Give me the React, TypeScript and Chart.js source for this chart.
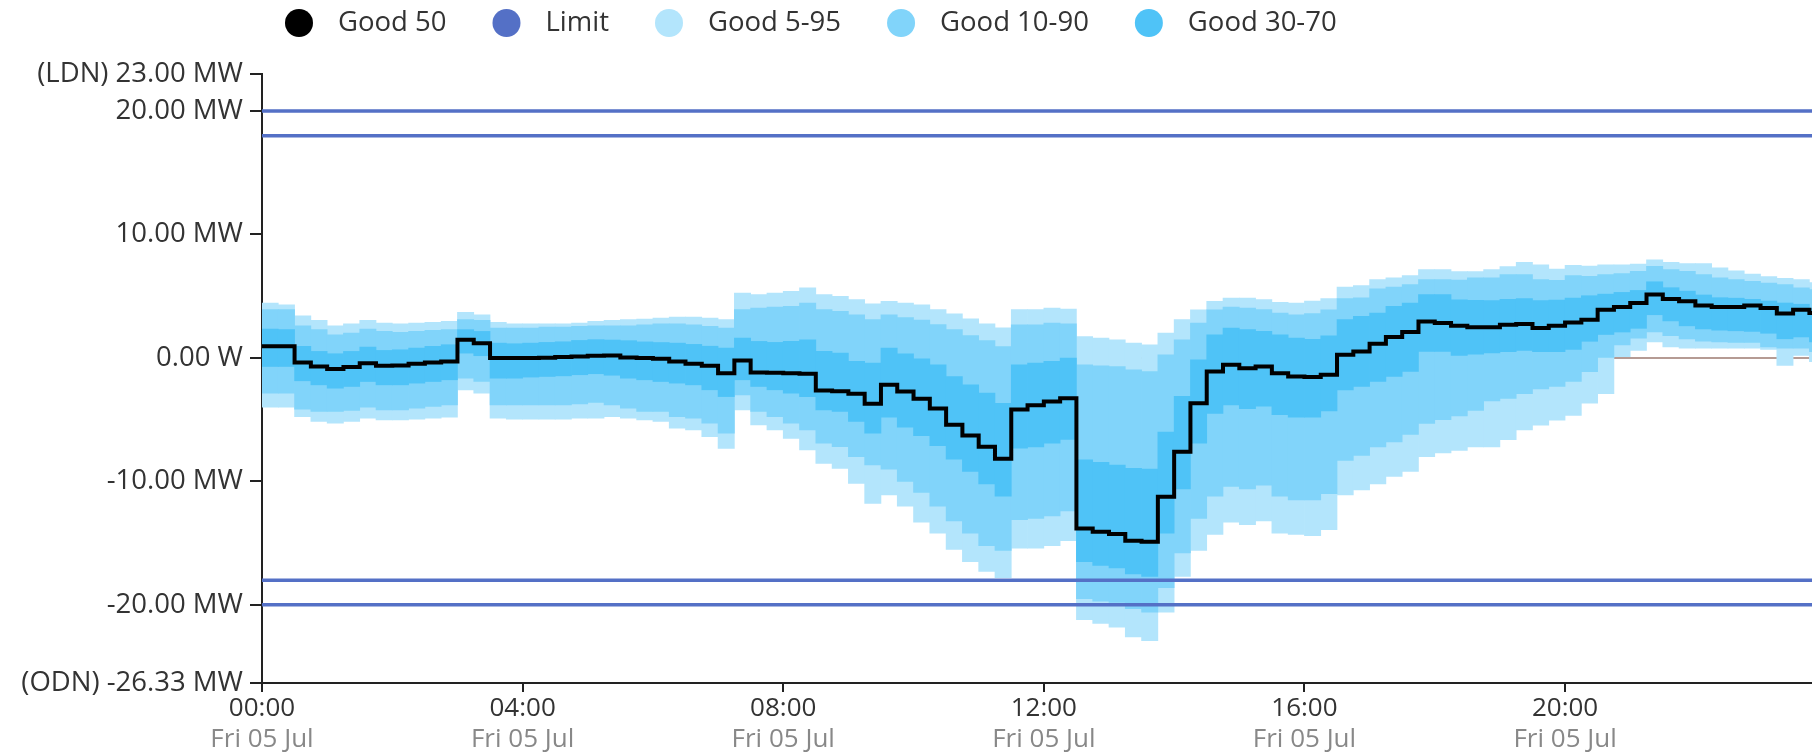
import React, { useEffect, useRef } from 'react';
import { Chart, registerables } from 'chart.js';

Chart.register(...registerables);

// ---------------- data ----------------
// 15-minute slots, hours on the x axis
const SLOT_HOURS = 0.25;
const X_MAX = 23.79;
const X_TICKS = [0, 4, 8, 12, 16, 20];
const DATE_LABEL = 'Fri 05 Jul';
const Y_MIN = -26.33;
const Y_MAX = 23;
const Y_TICKS = [-26.33, -20, -10, 0, 10, 20, 23];
const LIMITS = [20, 18, -18, -20];

const LABEL_GOOD50 = 'Good 50';
const LABEL_LIMIT = 'Limit';
const LABEL_B95 = 'Good 5-95';
const LABEL_B90 = 'Good 10-90';
const LABEL_B70 = 'Good 30-70';

// median (step line)
const good50 = [
  0.94, 0.94, -0.36, -0.69, -0.9, -0.74, -0.42, -0.63,
  -0.61, -0.47, -0.36, -0.28, 1.48, 1.2, -0.01, -0.01,
  0, 0.02, 0.07, 0.12, 0.18, 0.2, 0.04, -0.01,
  -0.07, -0.28, -0.47, -0.64, -1.23, -0.2, -1.18, -1.2,
  -1.23, -1.29, -2.64, -2.69, -2.91, -3.72, -2.18, -2.72,
  -3.3, -4.1, -5.42, -6.28, -7.2, -8.17, -4.18, -3.84,
  -3.53, -3.26, -13.81, -14.08, -14.27, -14.81, -14.89, -11.24,
  -7.59, -3.67, -1.1, -0.56, -0.83, -0.69, -1.23, -1.5,
  -1.55, -1.37, 0.26, 0.53, 1.15, 1.69, 2.1, 2.96,
  2.83, 2.61, 2.48, 2.48, 2.69, 2.75, 2.42, 2.61,
  2.88, 3.1, 3.91, 4.13, 4.45, 5.13, 4.78, 4.59,
  4.24, 4.13, 4.13, 4.24, 4.05, 3.59, 3.91, 3.64,
];

// 95th percentile (top of Good 5-95)
const good95 = [
  4.45, 4.3, 3.42, 3.04, 2.61, 2.77, 3.04, 2.83,
  2.77, 2.83, 2.88, 2.96, 3.69, 3.5, 2.88, 2.77,
  2.77, 2.77, 2.77, 2.83, 2.96, 3.04, 3.1, 3.15,
  3.23, 3.31, 3.31, 3.23, 3.1, 5.26, 5.13, 5.26,
  5.4, 5.67, 5.13, 4.99, 4.72, 4.39, 4.58, 4.45,
  4.31, 3.91, 3.57, 3.17, 2.76, 2.43, 3.91, 3.91,
  4.04, 3.96, 1.74, 1.61, 1.47, 1.2, 1.07, 2.01,
  3.1, 3.9, 4.58, 4.85, 4.85, 4.72, 4.5, 4.45,
  4.6, 4.8, 5.75, 5.86, 6.35, 6.48, 6.67, 7.16,
  7.16, 7.0, 7.0, 7.15, 7.4, 7.75, 7.55, 7.2,
  7.5, 7.45, 7.55, 7.55, 7.6, 7.95, 7.75, 7.65,
  7.65, 7.3, 7.05, 6.8, 6.6, 6.45, 6.35, 6.1,
];

// 90th percentile (top of Good 10-90)
const good90 = [
  3.91, 3.91, 2.61, 2.29, 1.88, 2.02, 2.34, 2.15,
  2.07, 2.15, 2.23, 2.29, 3.1, 3.04, 2.42, 2.42,
  2.42, 2.5, 2.5, 2.56, 2.61, 2.6, 2.61, 2.69,
  2.77, 2.77, 2.69, 2.56, 2.42, 3.91, 4.04, 4.12,
  4.18, 4.45, 3.91, 3.77, 3.5, 3.1, 3.5, 3.27,
  3.07, 2.7, 2.3, 1.81, 1.4, 0.93, 2.69, 2.69,
  2.83, 2.77, -0.56, -0.64, -0.69, -0.96, -1.1, 0.26,
  1.47, 2.83, 3.9, 4.12, 4.04, 3.91, 3.64, 3.5,
  3.6, 3.9, 4.8, 4.86, 5.59, 5.75, 5.94, 6.35,
  6.35, 6.3, 6.48, 6.48, 6.75, 6.75, 6.35, 6.29,
  6.67, 6.62, 6.75, 6.83, 7.02, 7.43, 7.16, 7.02,
  6.75, 6.48, 6.35, 6.21, 6.07, 5.94, 5.67, 5.53,
];

// 70th percentile (top of Good 30-70)
const good70 = [
  2.34, 2.3, 0.94, 0.53, 0.34, 0.53, 0.88, 0.61,
  0.66, 0.8, 0.94, 1.07, 2.29, 2.15, 1.2, 1.15,
  1.2, 1.26, 1.31, 1.42, 1.48, 1.45, 1.4, 1.3,
  1.25, 1.2, 1.1, 0.95, 0.8, 1.61, 1.34, 1.26,
  1.34, 1.47, 0.53, 0.39, -0.28, -0.42, 0.8, 0.33,
  -0.08, -0.55, -1.5, -2.18, -2.85, -3.67, -0.56, -0.42,
  -0.28, -0.01, -8.26, -8.45, -8.67, -8.94, -9.0, -6.0,
  -3.1, -0.15, 1.88, 2.42, 2.29, 2.15, 1.88, 1.61,
  1.5, 1.8, 3.1, 3.37, 3.64, 4.18, 4.45, 5.13,
  5.13, 4.7, 4.67, 4.65, 4.74, 4.81, 4.64, 4.68,
  4.84, 5.04, 5.17, 5.31, 5.47, 6.17, 5.69, 5.41,
  5.1, 4.88, 4.84, 4.75, 4.61, 4.45, 4.35, 4.0,
];

// 30th percentile (bottom of Good 30-70)
const good30 = [
  -0.69, -0.69, -1.85, -2.18, -2.45, -2.31, -1.91, -2.18,
  -2.18, -2.04, -1.91, -1.77, 0.39, 0.18, -1.64, -1.64,
  -1.55, -1.5, -1.45, -1.36, -1.28, -1.4, -1.64, -1.77,
  -1.91, -2.04, -2.18, -2.58, -3.13, -1.77, -2.31, -2.58,
  -2.85, -3.13, -4.21, -4.34, -5.15, -6.1, -4.8, -5.6,
  -6.3, -7.1, -8.2, -9.2, -10.2, -11.2, -7.3, -7.2,
  -6.9, -6.6, -16.5, -16.8, -17.0, -17.5, -17.7, -14.2,
  -10.6, -6.9, -4.5, -3.8, -4.1, -3.9, -4.6, -4.8,
  -4.8, -4.3, -2.6, -2.3, -1.9, -1.5, -1.1, 0.53,
  0.53, 0.2, 0.3, 0.4, 0.5, 0.6, 0.5, 0.5,
  0.7, 1.35, 1.9, 2.1, 2.4, 3.5, 3.0, 2.6,
  2.35, 2.25, 2.2, 2.15, 2.0, 1.55, 1.7, 1.3,
];

// 10th percentile (bottom of Good 10-90)
const good10 = [
  -2.85, -2.85, -4.15, -4.34, -4.34, -4.26, -3.99, -4.21,
  -4.21, -4.07, -3.93, -3.8, -1.64, -1.91, -3.8, -3.8,
  -3.8, -3.8, -3.8, -3.72, -3.61, -3.8, -4.07, -4.34,
  -4.34, -4.75, -4.88, -5.29, -6.1, -2.99, -4.34, -4.75,
  -5.29, -5.83, -6.91, -7.18, -7.99, -8.67, -9.0, -10.0,
  -10.9, -12.0, -13.2, -14.2, -15.2, -15.6, -13.1, -13.0,
  -12.8, -12.4, -19.5, -19.7, -19.8, -20.3, -20.6, -18.6,
  -15.8, -13.0, -11.2, -10.4, -10.6, -10.3, -11.2, -11.5,
  -11.5, -11.0, -8.3, -7.9, -7.2, -6.8, -6.2, -5.3,
  -5.0, -4.7, -4.26, -3.48, -3.28, -2.89, -2.5, -2.3,
  -1.91, -1.12, 0.05, 1.05, 1.6, 2.1, 1.8, 1.55,
  1.35, 1.3, 1.25, 1.25, 0.9, 0.8, 0.8, 0.5,
];

// 5th percentile (bottom of Good 5-95)
const good5 = [
  -3.99, -3.99, -4.75, -5.15, -5.29, -5.15, -4.88, -5.02,
  -5.02, -4.96, -4.88, -4.8, -2.58, -2.85, -4.88, -4.96,
  -4.96, -4.96, -4.96, -4.88, -4.88, -4.75, -4.88, -5.02,
  -5.15, -5.69, -5.83, -6.37, -7.32, -4.21, -5.42, -5.83,
  -6.51, -7.45, -8.54, -8.94, -10.16, -11.78, -11.1, -12.0,
  -13.3, -14.2, -15.5, -16.5, -17.3, -17.8, -15.4, -15.4,
  -15.2, -14.8, -21.2, -21.5, -21.8, -22.6, -22.9, -20.6,
  -17.7, -15.6, -14.3, -13.3, -13.5, -13.2, -14.2, -14.3,
  -14.4, -13.9, -11.1, -10.7, -10.2, -9.6, -9.2, -8.0,
  -7.7, -7.5, -7.2, -7.2, -6.61, -5.83, -5.44, -5.04,
  -4.65, -3.67, -2.89, 0.1, 0.6, 1.3, 0.9, 0.8,
  0.8, 0.8, 0.8, 0.8, 0.7, -0.6, 0.2, -0.3,
];

// ---------------- styling ----------------
const FONT = '"Open Sans", "Noto Sans", sans-serif';
const AXIS_COLOR = '#222222';
const TEXT_COLOR = '#333333';
const SUB_TEXT_COLOR = '#888888';
const COLOR_GOOD50 = '#000000';
const COLOR_LIMIT = '#5470C6';
const COLOR_B95 = '#B3E5FC';
const COLOR_B90 = '#81D4FA';
const COLOR_B70 = '#4FC3F7';
const COLOR_ZERO = '#9C7A70';

const LEGEND_COLORS: Record<string, string> = {
  [LABEL_GOOD50]: COLOR_GOOD50,
  [LABEL_LIMIT]: COLOR_LIMIT,
  [LABEL_B95]: COLOR_B95,
  [LABEL_B90]: COLOR_B90,
  [LABEL_B70]: COLOR_B70,
};

function bandData(lo: number[], hi: number[]) {
  return lo.map((v, k) => ({ x: k * SLOT_HOURS + SLOT_HOURS / 2, y: [v, hi[k]] }));
}

function stepData(vals: number[]) {
  const pts = vals.map((v, k) => ({ x: k * SLOT_HOURS, y: v }));
  pts.push({ x: vals.length * SLOT_HOURS, y: vals[vals.length - 1] });
  return pts;
}

function limitData() {
  const pts: { x: number; y: number | null }[] = [];
  LIMITS.forEach((v) => {
    pts.push({ x: 0, y: v }, { x: 24, y: v }, { x: 24, y: null });
  });
  return pts;
}

function yLabel(v: number) {
  if (v === Y_MAX) return `(LDN) ${v.toFixed(2)} MW`;
  if (v === Y_MIN) return `(ODN) ${v.toFixed(2)} MW`;
  if (v === 0) return '0.00 W';
  return `${v.toFixed(2)} MW`;
}

function hourLabel(v: number) {
  return `${String(Math.round(v)).padStart(2, '0')}:00`;
}

const legendPlugin = {
  id: 'customLegend',
  afterDraw(chart: any) {
    const ctx = chart.ctx as CanvasRenderingContext2D;
    ctx.save();
    ctx.font = `27.5px ${FONT}`;
    ctx.textBaseline = 'middle';
    ctx.textAlign = 'left';
    let cx = 299;
    const cy = 23;
    chart.data.datasets.forEach((ds: any) => {
      const color = LEGEND_COLORS[ds.label];
      if (!color) return;
      ctx.fillStyle = color;
      ctx.beginPath();
      ctx.arc(cx, cy, 14, 0, Math.PI * 2);
      ctx.fill();
      ctx.fillStyle = TEXT_COLOR;
      ctx.fillText(ds.label, cx + 39, cy);
      const w = ctx.measureText(ds.label).width;
      cx = cx + 39 + w + 60;
    });
    ctx.restore();
  },
};

export default function App() {
  const ref = useRef<HTMLCanvasElement | null>(null);

  useEffect(() => {
    document.body.style.margin = '0';
    if (!ref.current) return;
    Chart.defaults.font.family = FONT;

    const chart = new Chart(ref.current, {
      type: 'bar',
      data: {
        datasets: [
          {
            type: 'line',
            label: LABEL_GOOD50,
            data: stepData(good50),
            borderColor: COLOR_GOOD50,
            backgroundColor: COLOR_GOOD50,
            borderWidth: 4,
            pointRadius: 0,
            stepped: 'before',
            fill: false,
            order: 0,
          },
          {
            type: 'line',
            label: LABEL_LIMIT,
            data: limitData(),
            borderColor: COLOR_LIMIT,
            backgroundColor: COLOR_LIMIT,
            borderWidth: 3.5,
            pointRadius: 0,
            fill: false,
            spanGaps: false,
            order: 1,
          },
          {
            type: 'bar',
            label: LABEL_B95,
            data: bandData(good5, good95),
            backgroundColor: COLOR_B95,
            order: 4,
          },
          {
            type: 'bar',
            label: LABEL_B90,
            data: bandData(good10, good90),
            backgroundColor: COLOR_B90,
            order: 3,
          },
          {
            type: 'bar',
            label: LABEL_B70,
            data: bandData(good30, good70),
            backgroundColor: COLOR_B70,
            order: 2,
          },
          {
            type: 'line',
            label: 'zero',
            data: [
              { x: 0, y: 0 },
              { x: 24, y: 0 },
            ],
            borderColor: COLOR_ZERO,
            borderWidth: 1.5,
            pointRadius: 0,
            fill: false,
            order: 5,
          },
        ] as any,
      },
      options: {
        animation: false,
        responsive: true,
        maintainAspectRatio: false,
        events: [],
        layout: { padding: { top: 74, left: 0, right: 0, bottom: 0 } },
        plugins: {
          legend: { display: false },
          tooltip: { enabled: false },
          title: { display: false },
        },
        datasets: {
          bar: {
            grouped: false,
            barPercentage: 1,
            categoryPercentage: 1,
            borderWidth: 0,
          },
        },
        scales: {
          x: {
            type: 'linear',
            position: 'bottom',
            weight: 0,
            min: 0,
            max: X_MAX,
            offset: false,
            grid: {
              offset: false,
              display: true,
              drawOnChartArea: false,
              drawTicks: true,
              tickLength: 9,
              color: AXIS_COLOR,
              lineWidth: 2,
            },
            border: { display: true, color: AXIS_COLOR, width: 2 },
            ticks: {
              color: TEXT_COLOR,
              font: { size: 26, family: FONT },
              padding: 1,
              maxRotation: 0,
              autoSkip: false,
              callback: (v: any) => hourLabel(Number(v)),
            },
            afterBuildTicks: (s: any) => {
              s.ticks = X_TICKS.map((value) => ({ value }));
            },
            afterFit: (s: any) => {
              s.height = 40;
            },
          },
          x2: {
            type: 'linear',
            position: 'bottom',
            weight: 1,
            min: 0,
            max: X_MAX,
            offset: false,
            grid: { display: false, drawTicks: false, drawOnChartArea: false },
            border: { display: false },
            ticks: {
              color: SUB_TEXT_COLOR,
              font: { size: 26, family: FONT },
              padding: 1,
              maxRotation: 0,
              autoSkip: false,
              callback: () => DATE_LABEL,
            },
            afterBuildTicks: (s: any) => {
              s.ticks = X_TICKS.map((value) => ({ value }));
            },
            afterFit: (s: any) => {
              s.height = 32;
            },
          },
          y: {
            type: 'linear',
            min: Y_MIN,
            max: Y_MAX,
            grid: {
              display: true,
              drawOnChartArea: false,
              drawTicks: true,
              tickLength: 12,
              color: AXIS_COLOR,
              lineWidth: 2,
            },
            border: { display: true, color: AXIS_COLOR, width: 2 },
            ticks: {
              color: TEXT_COLOR,
              font: { size: 27.5, family: FONT },
              padding: 7,
              autoSkip: false,
              callback: (v: any) => yLabel(Number(v)),
            },
            afterBuildTicks: (s: any) => {
              s.ticks = Y_TICKS.map((value) => ({ value }));
            },
            afterFit: (s: any) => {
              s.width = 262;
            },
          },
        },
      } as any,
      plugins: [legendPlugin],
    });

    return () => chart.destroy();
  }, []);

  return (
    <div style={{ position: 'relative', width: '1812px', height: '755px' }}>
      <canvas ref={ref} style={{ display: 'block' }} />
    </div>
  );
}
